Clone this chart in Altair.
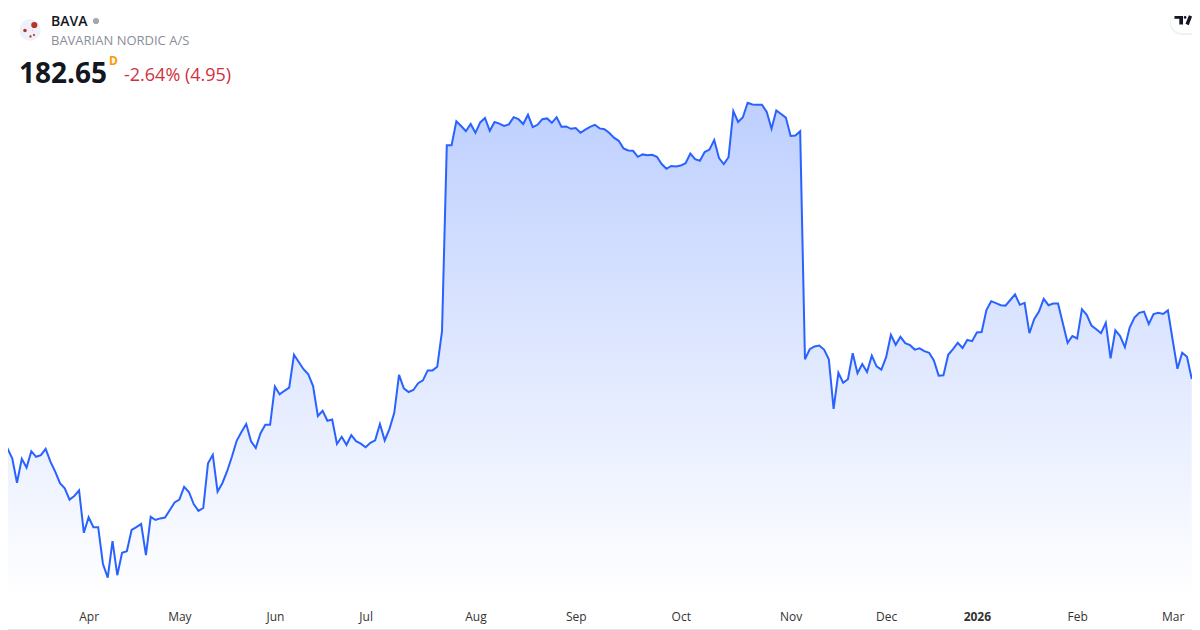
import altair as alt
import pandas as pd

prices = [165.0,165.3,162.8,156.7,162.7,160.5,164.6,163.2,163.6,165.2,162.0,159.5,156.6,155.3,152.5,153.4,154.8,144.2,148.1,145.6,
145.6,136.4,133.0,142.1,133.6,139.2,139.6,144.9,145.6,146.4,138.6,148.2,147.4,147.8,148.0,149.9,151.8,152.5,155.7,154.4,
151.4,149.7,150.4,161.6,163.7,154.5,156.6,159.6,163.2,167.2,169.4,171.4,167.1,165.4,169.1,171.2,171.2,180.8,178.8,179.7,
180.5,188.7,186.9,185.1,183.8,180.9,173.4,174.7,172.2,172.5,166.4,168.2,166.2,168.6,167.1,166.5,165.6,166.7,167.3,171.4,
167.3,170.2,174.2,183.7,180.3,179.4,179.9,181.6,182.3,184.8,184.8,185.7,194.6,241.1,241.1,247.1,245.9,244.6,246.4,244.2,
246.8,247.9,244.7,246.9,246.5,245.9,246.3,248.1,247.6,246.4,248.7,245.6,246.2,247.6,247.8,246.7,248.1,245.7,245.8,245.2,
245.4,244.2,245.0,245.7,246.2,245.3,245.1,244.2,243.0,242.2,240.3,239.8,239.7,238.2,238.8,238.6,238.7,238.2,236.4,235.2,
235.9,235.8,236.0,236.6,239.0,237.6,237.2,239.4,240.0,242.4,237.9,236.4,238.1,249.6,246.9,248.1,251.7,251.3,251.2,251.2,
249.4,245.2,249.8,248.9,248.0,243.4,243.5,244.6,187.6,190.1,190.8,191.0,190.0,187.6,175.2,184.2,181.7,182.6,189.1,184.1,
186.4,184.4,188.5,185.8,185.0,188.1,193.7,191.2,193.2,191.6,191.1,190.0,190.3,189.6,189.2,187.3,183.5,183.6,188.7,190.1,
191.7,190.4,192.4,192.1,194.3,194.4,199.9,202.1,201.6,201.1,201.0,202.4,203.8,201.2,201.7,194.1,197.6,199.5,202.7,201.1,
201.5,201.5,196.6,191.7,193.4,192.8,200.1,198.7,196.0,195.1,194.1,196.7,187.8,194.8,193.4,190.6,195.5,198.0,199.2,199.5,
196.4,198.9,199.2,198.9,199.8,192.4,185.2,189.2,188.2,182.65]

tick_positions = [18,37,57,76,99,120,142,165,185,204,225,245]
tick_labels = ["Apr","May","Jun","Jul","Aug","Sep","Oct","Nov","Dec","2026","Feb","Mar"]
price_floor = 127.9

df = pd.DataFrame({"i": list(range(len(prices))), "price": prices, "floor": price_floor})
one = pd.DataFrame({"k": [0]})

W, H = 1184, 590
x_scale = alt.Scale(domain=[1.115, 249.05], nice=False, zero=False)
# page y = 8 -> 275.4, page y = 598 -> 127.9
y_scale = alt.Scale(domain=[price_floor, 275.4], nice=False, zero=False)

label_expr = "{" + ",".join(f"'{p}':'{t}'" for p, t in zip(tick_positions, tick_labels)) + "}[datum.value]"
x_axis = alt.Axis(values=tick_positions, labelExpr=label_expr, title=None, grid=False, domain=False, ticks=False,
                  labelFont="Open Sans", labelFontSize=12, labelColor="#333333", labelPadding=13, labelOverlap=False,
                  labelBound=False, labelFlush=False,
                  labelFontWeight={"condition": {"test": "datum.value == 204", "value": "bold"}, "value": "normal"})

enc_x = alt.X("i:Q", scale=x_scale, axis=x_axis)
enc_y = alt.Y("price:Q", scale=y_scale, axis=None, stack=None)

area = alt.Chart(df).mark_area(
    color=alt.Gradient(gradient="linear", x1=0, x2=0, y1=0, y2=1,
                       stops=[alt.GradientStop(color="rgba(41,98,255,0.3)", offset=0),
                              alt.GradientStop(color="rgba(41,98,255,0)", offset=1)])
).encode(x=enc_x, y=enc_y, y2=alt.Y2("floor:Q"))
line = alt.Chart(df).mark_line(color="#2962ff", strokeWidth=2).encode(x=enc_x, y=enc_y)


def text(s, px, py, size, color, weight="normal", **kw):
    return alt.Chart(one).mark_text(align="left", baseline="alphabetic", font="Open Sans", fontSize=size,
                                    color=color, fontWeight=weight, **kw).encode(
        x=alt.value(px - 8), y=alt.value(py - 8), text=alt.value(s))


def dot(px, py, d, color):
    return alt.Chart(one).mark_point(filled=True, opacity=1, color=color, size=d * d * 0.785).encode(
        x=alt.value(px - 8), y=alt.value(py - 8))


def box(x0, x1, y0, y1, color):
    return alt.Chart(one).mark_rect(color=color).encode(
        x=alt.value(x0 - 8), x2=alt.value(x1 - 8), y=alt.value(y0 - 8), y2=alt.value(y1 - 8))


RED = "#b8322a"
header = [
    dot(30, 30, 24, "#eef1f9"), dot(34.3, 25, 7, RED), dot(25, 30.5, 4, RED),
    dot(34, 35, 2.4, RED), dot(30.5, 36.5, 2.6, RED), dot(32.5, 30.5, 1, "#d08a85"),
    text("BAVA", 51, 26, 14, "#131722", 600),
    dot(96, 21, 7, "#a3a6af"),
    text("BAVARIAN NORDIC A/S", 51, 45, 13, "#8a8e97"),
    text("182.65", 19, 83, 28, "#131722", 700),
    text("D", 109, 65, 12, "#ff9800", 700),
    text("-2.64% (4.95)", 124, 81, 18, "#d32f3f"),
]

badge_shadow = alt.Chart(one).mark_rect(cornerRadius=12, color="#f0f1f4").encode(
    x=alt.value(1170 - 8), x2=alt.value(1215 - 8), y=alt.value(11 - 8), y2=alt.value(35 - 8))
badge = alt.Chart(one).mark_rect(cornerRadius=11, color="white").encode(
    x=alt.value(1171 - 8), x2=alt.value(1215 - 8), y=alt.value(10 - 8), y2=alt.value(33 - 8))
LOGO_DX = -2.5
logo = [
    box(1177 + LOGO_DX, 1185.5 + LOGO_DX, 16, 18.8, "#131722"),
    box(1181.8 + LOGO_DX, 1185.5 + LOGO_DX, 16, 24.5, "#131722"),
    dot(1187.6 + LOGO_DX, 17.4, 3, "#131722"),
    alt.Chart(one).mark_rule(color="#131722", strokeWidth=3.4).encode(
        x=alt.value(1193 + LOGO_DX - 8), x2=alt.value(1189.6 + LOGO_DX - 8), y=alt.value(16 - 8), y2=alt.value(24.5 - 8)),
]
border = alt.Chart(one).mark_rect(cornerRadius=4, fill="transparent", stroke="#e0e3eb", strokeWidth=1).encode(
    x=alt.value(-7.5), x2=alt.value(1230), y=alt.value(-7.5), y2=alt.value(621.5))

chart = alt.layer(area, line, *header, badge_shadow, badge, *logo, border).properties(
    width=W, height=H,
    padding={"left": 0, "top": 0, "right": 0, "bottom": 32},
    autosize=alt.AutoSizeParams(type="none", contains="content"),
    background="white",
).configure_view(stroke=None)

chart.save("out.html", embed_options={"renderer": "svg", "actions": False})
